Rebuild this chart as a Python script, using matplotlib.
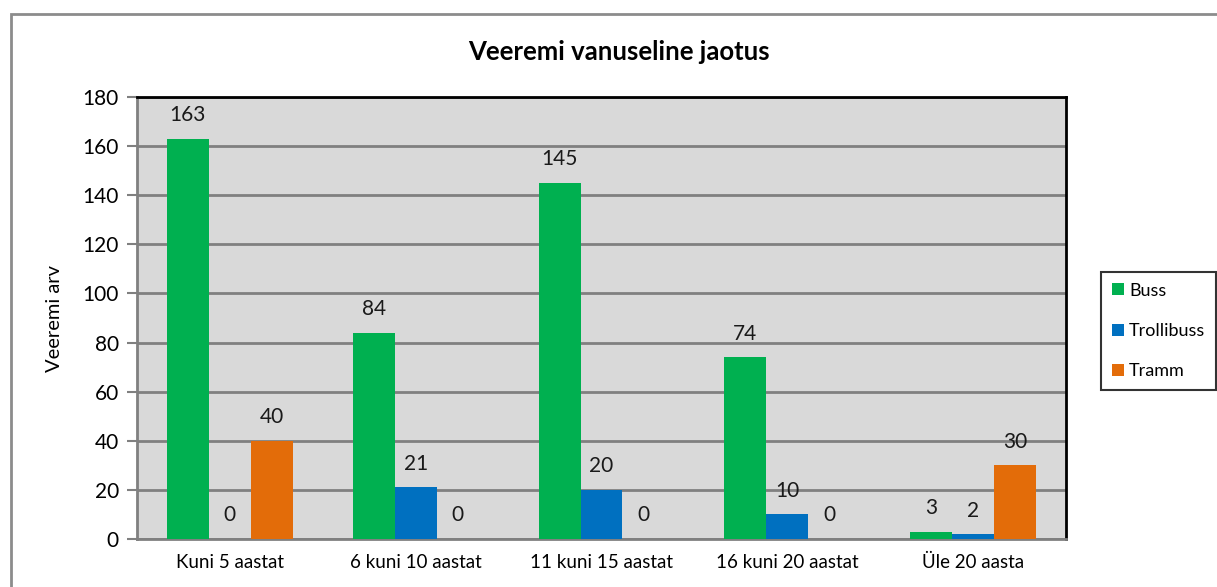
import matplotlib
matplotlib.use("Agg")
import matplotlib.pyplot as plt
import numpy as np
from matplotlib.patches import Rectangle

plt.rcParams['font.family'] = ['Lato', 'DejaVu Sans']

# andmed
categories = ["Kuni 5 aastat", "6 kuni 10 aastat", "11 kuni 15 aastat",
              "16 kuni 20 aastat", "Üle 20 aasta"]
buss = [163, 84, 145, 74, 3]
trollibuss = [0, 21, 20, 10, 2]
tramm = [40, 0, 0, 0, 30]
series_names = ["Buss", "Trollibuss", "Tramm"]
colors = ["#00b050", "#0070c0", "#e36c09"]

fig = plt.figure(figsize=(12.17, 5.87), dpi=100)
# välimine raam
fig.patches.append(Rectangle((11 / 1217, -0.1), 1.2, 1 - 14 / 587 + 0.1,
                             transform=fig.transFigure, fill=False,
                             edgecolor="#8c8c8c", linewidth=2))

ax = fig.add_axes([137 / 1217, 48 / 587, (1066 - 137) / 1217, (539 - 97) / 587])
ax.set_facecolor("#d9d9d9")

x = np.arange(len(categories))
w = 0.226
for i, (vals, name, c) in enumerate(zip([buss, trollibuss, tramm], series_names, colors)):
    pos = x + (i - 1) * w
    ax.bar(pos, vals, width=w, color=c, label=name, zorder=3)
    for p, v in zip(pos, vals):
        ax.text(p, v + 5.5, str(v), ha="center", va="bottom", fontsize=15, color="#1a1a1a")

ax.set_xlim(-0.5, len(categories) - 0.5)
ax.set_ylim(0, 180)
ax.set_yticks(range(0, 181, 20))
ax.set_xticks(x)
ax.set_xticklabels(categories, fontsize=13.5)
ax.tick_params(axis="y", labelsize=15, length=7, width=1.5, color="#808080",
               direction="out", pad=6)
ax.tick_params(axis="x", length=0, pad=11)
ax.grid(axis="y", color="#808080", linewidth=2, zorder=1)
ax.set_axisbelow(True)

for s in ["top", "right"]:
    ax.spines[s].set_color("black")
    ax.spines[s].set_linewidth(2)
for s in ["left", "bottom"]:
    ax.spines[s].set_color("#808080")
    ax.spines[s].set_linewidth(2)

ax.set_ylabel("Veeremi arv", fontsize=14.5, labelpad=14)
fig.text(0.509, 1 - 52 / 587, "Veeremi vanuseline jaotus", ha="center", va="center",
         fontsize=18.5, fontweight="bold")

leg = fig.legend(loc="center left", bbox_to_anchor=(1092 / 1217, 1 - 331 / 587),
                 fontsize=13, frameon=True, fancybox=False, handlelength=0.65,
                 handleheight=0.65, handletextpad=0.3, labelspacing=1.35, borderpad=0.6)
leg.get_frame().set_edgecolor("black")
leg.get_frame().set_linewidth(1.5)

fig.savefig("out.png", dpi=100)
